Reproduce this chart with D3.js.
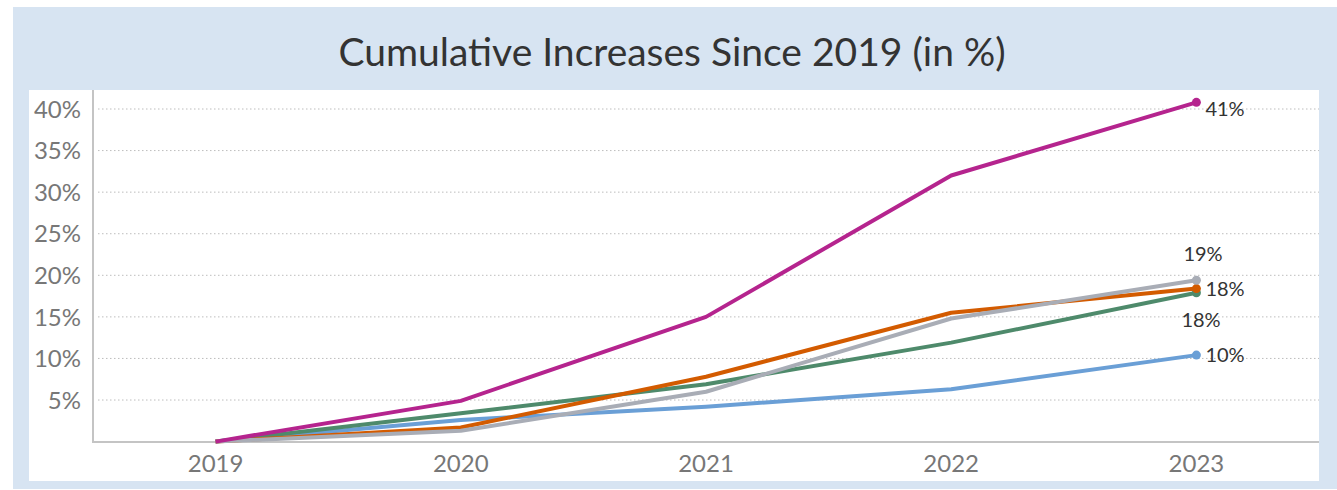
<!DOCTYPE html>
<html>
<head>
<meta charset="utf-8">
<script src="https://cdn.jsdelivr.net/npm/d3@7"></script>
<style>
  body { margin: 0; background: #fff; }
  svg { display: block; font-family: Lato, "Open Sans", sans-serif; }
</style>
</head>
<body>
<div id="chart"></div>
<script>

// data
var years = ["2019", "2020", "2021", "2022", "2023"];
var seriesNames = ["magenta", "orange", "gray", "green", "blue"];
var magenta = [0, 4.9, 15.0, 32.0, 40.8];
var orange = [0, 1.7, 7.8, 15.5, 18.4];
var gray = [0, 1.3, 6.0, 14.8, 19.4];
var green = [0, 3.4, 6.9, 11.9, 17.9];
var blue = [0, 2.6, 4.2, 6.3, 10.4];
var yTicks = [5, 10, 15, 20, 25, 30, 35, 40];

var colors = ["#b5248e", "#d35b00", "#a9adb6", "#4e8a6b", "#6a9fd6"];
// label offsets for the end labels (dx, dy)
var labelPos = [[9, 14], [9, 7], [-13, -19], [-15, 34], [9, 7]];

function drawChart() {
    var width = 1337, height = 490;
    var values = [magenta, orange, gray, green, blue];

    var svg = d3.select("#chart").append("svg")
        .attr("width", width)
        .attr("height", height);

    svg.append("rect")
        .attr("x", 13).attr("y", 7)
        .attr("width", width - 13).attr("height", 482)
        .attr("fill", "#d7e4f2");

    svg.append("rect")
        .attr("x", 29).attr("y", 90)
        .attr("width", 1290).attr("height", 391)
        .attr("fill", "#fff");

    svg.append("text")
        .attr("x", 672).attr("y", 66)
        .attr("text-anchor", "middle")
        .attr("font-size", 39)
        .attr("fill", "#333")
        .text("Cumulative Increases Since 2019 (in %)");

    var x = d3.scalePoint()
        .domain(years)
        .range([93, 1319])
        .padding(0.5);

    var y = d3.scaleLinear()
        .domain([0, 40])
        .range([441.6, 109]);

    // gridlines
    svg.append("g")
        .selectAll("line")
        .data(yTicks)
        .enter().append("line")
        .attr("x1", 98).attr("x2", 1319)
        .attr("y1", function(d){ return y(d); })
        .attr("y2", function(d){ return y(d); })
        .attr("stroke", "#bdbdbd")
        .attr("stroke-width", 1)
        .attr("stroke-dasharray", "1.5,2.5");

    // y labels
    svg.append("g")
        .selectAll("text")
        .data(yTicks)
        .enter().append("text")
        .attr("x", 81)
        .attr("y", function(d){ return y(d); })
        .attr("dy", "0.36em")
        .attr("text-anchor", "end")
        .attr("font-size", 24)
        .attr("fill", "#777")
        .text(function(d){ return d + "%"; });

    // axis lines
    svg.append("line")
        .attr("x1", 93).attr("x2", 93)
        .attr("y1", 90).attr("y2", 442)
        .attr("stroke", "#c4c4c4").attr("stroke-width", 2);
    svg.append("line")
        .attr("x1", 92).attr("x2", 1319)
        .attr("y1", 442).attr("y2", 442)
        .attr("stroke", "#c4c4c4").attr("stroke-width", 2);

    // x labels
    svg.append("g")
        .selectAll("text")
        .data(years)
        .enter().append("text")
        .attr("x", function(d){ return x(d); })
        .attr("y", 472)
        .attr("text-anchor", "middle")
        .attr("font-size", 24)
        .attr("fill", "#777")
        .text(function(d){ return d; });

    var line = d3.line()
        .x(function(d, i){ return x(years[i]); })
        .y(function(d){ return y(d); });

    var g = svg.append("g");
    // draw order: blue, green, orange, gray, magenta on top
    var order = [4, 3, 1, 2, 0];
    order.forEach(function(k){
        g.append("path")
            .datum(values[k])
            .attr("d", line)
            .attr("fill", "none")
            .attr("stroke", colors[k])
            .attr("stroke-width", 4)
            .attr("stroke-linejoin", "round");
        var last = values[k].length - 1;
        g.append("circle")
            .attr("cx", x(years[last]))
            .attr("cy", y(values[k][last]))
            .attr("r", 4.5)
            .attr("fill", colors[k]);
    });

    // end labels
    svg.append("g")
        .selectAll("text")
        .data(values)
        .enter().append("text")
        .attr("x", function(d, i){ return x(years[4]) + labelPos[i][0]; })
        .attr("y", function(d, i){ return y(d[4]) + labelPos[i][1]; })
        .attr("font-size", 20)
        .attr("fill", "#333")
        .text(function(d){ return Math.round(d[4]) + "%"; });
}

drawChart();
</script>
</body>
</html>
